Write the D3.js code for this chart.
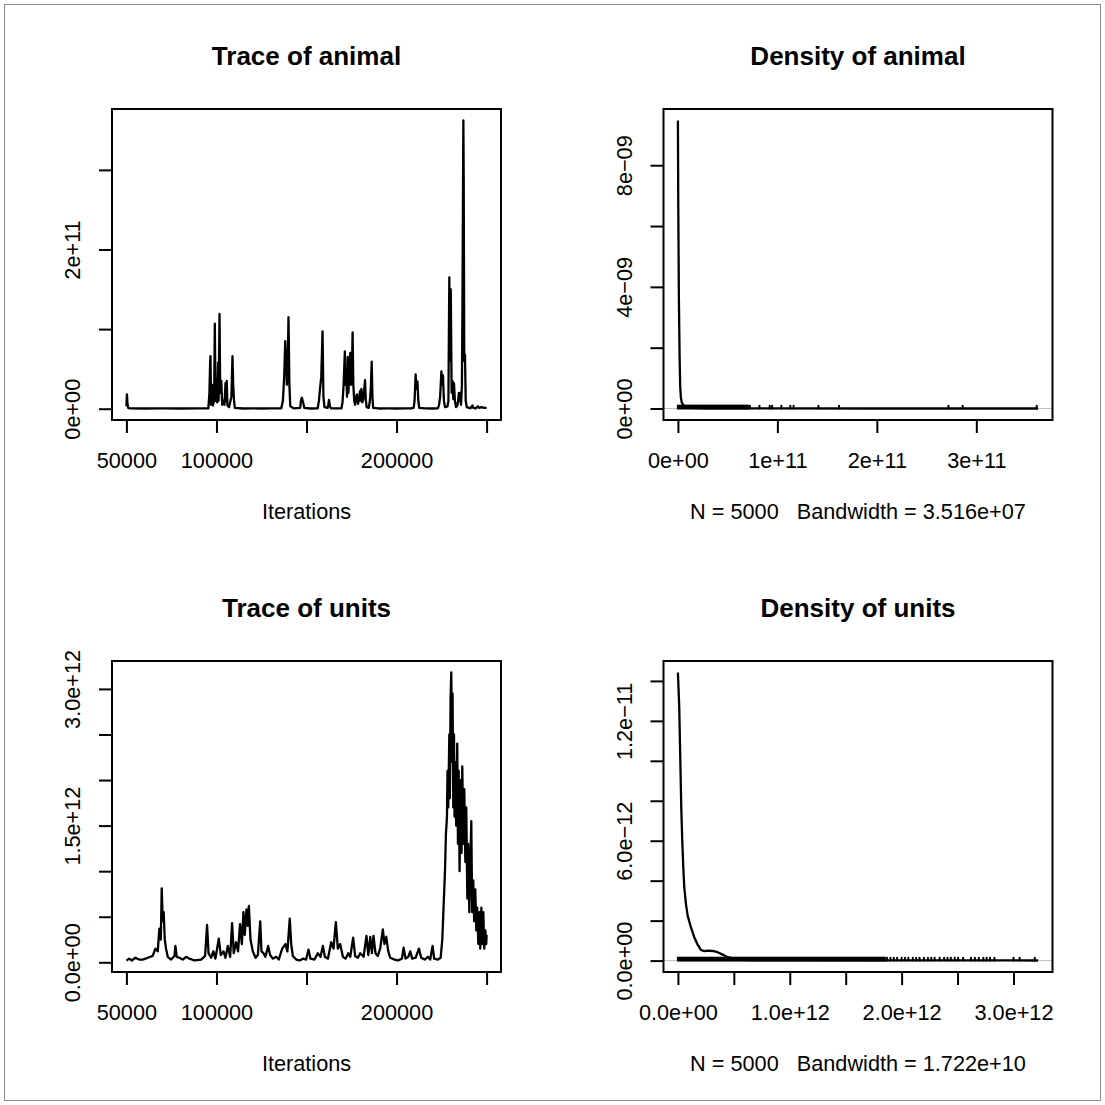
<!DOCTYPE html>
<html><head><meta charset="utf-8">
<script src="https://cdn.jsdelivr.net/npm/d3@7"></script>
<style>
body{margin:0;background:#fff}
svg{display:block}
text{font-family:"Liberation Sans",Arial,Helvetica,sans-serif;fill:#000}
</style>
</head><body>
<svg id="chart" width="1105" height="1105"></svg>
<script>
// ---------------- DATA ----------------
const titles = ["Trace of animal", "Density of animal", "Trace of units", "Density of units"];
const xLabelsText = ["Iterations", "N = 5000   Bandwidth = 3.516e+07", "Iterations", "N = 5000   Bandwidth = 1.722e+10"];

// Trace of animal (iteration, value)
const animalIter = [50000,50300,50600,51000,52000,60000,70000,80000,90000,95500,96100,96500,96700,97000,97600,98000,98700,99100,99500,100000,100400,100900,101200,101700,102100,102700,103200,104000,104500,105000,105400,105700,106100,107000,108300,108900,109300,109700,110200,115000,120000,125000,130000,136000,136900,137600,138200,138700,139100,139500,140000,140500,141000,143000,146500,146900,147400,148100,148800,152000,156200,156900,157500,158200,158900,159400,160000,161700,162100,162500,163000,163600,166000,169400,170000,170600,171300,171700,172100,172500,172900,173300,173800,174300,174700,175200,175600,176000,176500,177000,177500,178000,178600,179200,179700,180100,180500,181000,181500,181900,182500,182900,183400,184600,185200,185700,186200,186600,187000,190000,195000,200000,205000,208000,209500,210000,210600,211100,211600,212100,212600,216000,220000,223000,223600,224200,224900,225400,225800,226300,226900,228300,228800,229300,229700,230100,230600,231100,231500,231900,232400,233000,233800,234200,234600,235000,235400,235800,236300,236600,236900,237100,237300,237600,238000,238400,239000,241000,242200,242600,244000,245200,246000,247100,248500,250000];
const animalValue = [0.03e11,0.18e11,0.06e11,0.01e11,0.005e11,0.003e11,0.004e11,0.003e11,0.004e11,0.005e11,0.2e11,0.6e11,0.66e11,0.05e11,0.3e11,0.04e11,0.1e11,1.07e11,0.1e11,0.33e11,0.08e11,0.58e11,0.1e11,1.19e11,0.2e11,0.35e11,0.05e11,0.1e11,0.05e11,0.32e11,0.1e11,0.35e11,0.04e11,0.02e11,0.15e11,0.66e11,0.3e11,0.12e11,0.01e11,0.003e11,0.004e11,0.003e11,0.004e11,0.005e11,0.1e11,0.4e11,0.85e11,0.6e11,0.3e11,0.4e11,1.15e11,0.3e11,0.03e11,0.004e11,0.01e11,0.1e11,0.14e11,0.08e11,0.01e11,0.003e11,0.005e11,0.1e11,0.25e11,0.4e11,0.97e11,0.15e11,0.02e11,0.01e11,0.05e11,0.11e11,0.03e11,0.005e11,0.004e11,0.005e11,0.08e11,0.3e11,0.72e11,0.3e11,0.45e11,0.15e11,0.65e11,0.2e11,0.5e11,0.7e11,0.3e11,0.45e11,0.96e11,0.3e11,0.1e11,0.05e11,0.15e11,0.18e11,0.06e11,0.12e11,0.22e11,0.1e11,0.25e11,0.08e11,0.12e11,0.2e11,0.36e11,0.12e11,0.02e11,0.01e11,0.1e11,0.25e11,0.59e11,0.15e11,0.01e11,0.003e11,0.004e11,0.003e11,0.004e11,0.006e11,0.01e11,0.1e11,0.43e11,0.25e11,0.34e11,0.1e11,0.01e11,0.004e11,0.003e11,0.006e11,0.05e11,0.15e11,0.47e11,0.3e11,0.42e11,0.1e11,0.02e11,0.03e11,0.1e11,1.65e11,0.6e11,1.5e11,0.2e11,0.35e11,0.12e11,0.32e11,0.1e11,0.02e11,0.04e11,0.1e11,0.2e11,0.1e11,0.2e11,0.05e11,0.3e11,1.32e11,2.71e11,3.62e11,2.86e11,0.6e11,0.68e11,0.1e11,0.02e11,0.005e11,0.04e11,0.01e11,0.005e11,0.03e11,0.01e11,0.02e11,0.01e11,0.01e11];

// Trace of units (iteration, value)
const unitsIter = [50000,51500,53000,55000,57000,59100,61900,64600,66100,67400,68300,69100,69600,70200,70700,71300,72000,72960,74800,76700,77200,77960,79400,81300,83150,85000,87800,91500,93700,94800,95600,97000,98300,99400,101300,102400,103900,105000,106300,107600,108700,109600,110900,112000,113100,114100,115000,115700,116700,117400,118000,118900,120200,121700,123000,124300,125000,126100,127200,128700,129800,131300,133200,134600,136500,138300,139400,140700,141500,142400,144300,146100,148300,149800,151100,152200,154400,156300,157800,159100,160200,161900,163700,165000,166300,167400,168700,170200,171700,173200,174300,175900,177000,178500,179800,181700,183300,184300,185400,186300,187200,188300,189600,190900,192400,193300,194300,195400,196500,198900,200800,203000,203900,205000,206500,207600,208700,210600,212400,213700,215600,217400,218700,220000,220900,223000,224500,225400,226100,226900,227400,228000,228300,228700,229300,229600,230000,230400,230800,231100,231500,231900,232200,232600,233100,233700,234100,234500,235000,235600,236100,236500,237100,237600,238200,238700,239300,239800,240400,240900,241500,242000,242600,243100,243700,244300,244800,245400,246100,246500,247100,247600,248200,248700,249300,249800,250000];
const unitsValue = [0.02e12,0.04e12,0.02e12,0.05e12,0.03e12,0.03e12,0.05e12,0.07e12,0.15e12,0.12e12,0.37e12,0.25e12,0.81e12,0.45e12,0.55e12,0.25e12,0.15e12,0.06e12,0.03e12,0.07e12,0.18e12,0.06e12,0.05e12,0.03e12,0.06e12,0.04e12,0.02e12,0.03e12,0.07e12,0.41e12,0.1e12,0.05e12,0.12e12,0.04e12,0.26e12,0.08e12,0.12e12,0.05e12,0.18e12,0.06e12,0.43e12,0.1e12,0.22e12,0.12e12,0.42e12,0.2e12,0.55e12,0.3e12,0.58e12,0.4e12,0.62e12,0.25e12,0.12e12,0.05e12,0.08e12,0.45e12,0.12e12,0.1e12,0.06e12,0.18e12,0.08e12,0.04e12,0.06e12,0.03e12,0.15e12,0.2e12,0.12e12,0.48e12,0.2e12,0.07e12,0.03e12,0.02e12,0.04e12,0.03e12,0.14e12,0.04e12,0.03e12,0.1e12,0.06e12,0.18e12,0.06e12,0.04e12,0.22e12,0.15e12,0.44e12,0.15e12,0.2e12,0.06e12,0.04e12,0.1e12,0.06e12,0.27e12,0.07e12,0.05e12,0.1e12,0.06e12,0.29e12,0.08e12,0.28e12,0.1e12,0.29e12,0.1e12,0.07e12,0.15e12,0.36e12,0.2e12,0.28e12,0.12e12,0.05e12,0.03e12,0.02e12,0.04e12,0.16e12,0.04e12,0.06e12,0.12e12,0.04e12,0.05e12,0.15e12,0.05e12,0.03e12,0.06e12,0.03e12,0.18e12,0.04e12,0.03e12,0.05e12,0.25e12,0.6e12,1.0e12,1.4e12,1.6e12,2.1e12,1.7e12,2.5e12,1.8e12,2.9e12,3.18e12,2.2e12,2.95e12,1.7e12,2.5e12,1.6e12,2.2e12,1.5e12,2.4e12,1.3e12,2.1e12,1.0e12,2.0e12,1.2e12,2.15e12,1.3e12,1.9e12,1.1e12,1.7e12,0.7e12,1.3e12,0.55e12,1.0e12,1.55e12,0.55e12,0.9e12,0.45e12,0.8e12,0.35e12,0.6e12,0.2e12,0.55e12,0.15e12,0.6e12,0.2e12,0.55e12,0.15e12,0.35e12,0.2e12,0.3e12];

// Density of animal
const animalDensX = [0,0.0035e11,0.01e11,0.017e11,0.023e11,0.03e11,0.04e11,0.055e11,0.08e11,0.13e11,0.3e11,1.0e11,2.0e11,3.0e11,3.621e11];
const animalDensY = [9.47e-9,6.74e-9,3.57e-9,1.72e-9,0.73e-9,0.35e-9,0.19e-9,0.11e-9,0.05e-9,0.02e-9,0.005e-9,0.002e-9,0.001e-9,0.001e-9,0.001e-9];
const animalObsBand = [0, 0.70e11];
const animalObs = [0.703e11,0.723e11,0.82e11,0.923e11,0.947e11,1.04e11,1.13e11,1.163e11,1.413e11,1.62e11,2.72e11,2.863e11,3.607e11];

// Density of units
const unitsDensX = [0,0.012e12,0.021e12,0.03e12,0.039e12,0.048e12,0.057e12,0.072e12,0.087e12,0.116e12,0.146e12,0.176e12,0.206e12,0.236e12,0.266e12,0.31e12,0.355e12,0.40e12,0.445e12,0.504e12,0.624e12,1.04e12,1.94e12,2.53e12,3.22e12];
const unitsDensY = [14.42e-12,12.67e-12,10.17e-12,7.67e-12,6.0e-12,4.67e-12,3.67e-12,2.83e-12,2.25e-12,1.67e-12,1.17e-12,0.8e-12,0.53e-12,0.47e-12,0.5e-12,0.48e-12,0.42e-12,0.3e-12,0.17e-12,0.08e-12,0.03e-12,0.02e-12,0.015e-12,0.01e-12,0.005e-12];
const unitsObsBand = [0, 1.85e12];
const unitsObs = [1.87e12,1.9e12,1.93e12,1.96e12,2.0e12,2.03e12,2.06e12,2.1e12,2.13e12,2.16e12,2.2e12,2.235e12,2.265e12,2.295e12,2.34e12,2.38e12,2.41e12,2.44e12,2.475e12,2.505e12,2.55e12,2.62e12,2.655e12,2.69e12,2.73e12,2.76e12,2.79e12,2.83e12,3.0e12,3.055e12,3.19e12];

// Tick values and labels
const iterTicks = [50000,100000,150000,200000,250000];
const iterTickLabels = ["50000","100000","","200000",""];
const animalTraceYTicks = [0,1e11,2e11,3e11];
const animalTraceYLabels = ["0e+00","","2e+11",""];
const animalDensXTicks = [0,1e11,2e11,3e11];
const animalDensXLabels = ["0e+00","1e+11","2e+11","3e+11"];
const animalDensYTicks = [0,2e-9,4e-9,6e-9,8e-9];
const animalDensYLabels = ["0e+00","","4e\u221209","","8e\u221209"];
const unitsTraceYTicks = [0,0.5e12,1.0e12,1.5e12,2.0e12,2.5e12,3.0e12];
const unitsTraceYLabels = ["0.0e+00","","","1.5e+12","","","3.0e+12"];
const unitsDensXTicks = [0,0.5e12,1.0e12,1.5e12,2.0e12,2.5e12,3.0e12];
const unitsDensXLabels = ["0.0e+00","","1.0e+12","","2.0e+12","","3.0e+12"];
const unitsDensYTicks = [0,2e-12,4e-12,6e-12,8e-12,10e-12,12e-12,14e-12];
const unitsDensYLabels = ["0.0e+00","","","6.0e\u221212","","","1.2e\u221211",""];

// ---------------- DRAW ----------------
const svg = d3.select("#chart");
svg.append("rect").attr("width",1105).attr("height",1105).attr("fill","#fff");
svg.append("rect").attr("x",4.5).attr("y",4.5).attr("width",1096).attr("height",1096)
  .attr("fill","none").attr("stroke","#8c8c8c").attr("stroke-width",1);

const PW = 389, PH = 311;
const FS = 21.7, TFS = 26;

function pad(ext){ const r = ext[1]-ext[0]; return [ext[0]-0.04*r, ext[1]+0.04*r]; }

function panel(o){
  const g = svg.append("g");
  const x = d3.scaleLinear().domain(pad(d3.extent(o.xs))).range([o.left, o.left+PW]);
  const y = d3.scaleLinear().domain(pad(d3.extent(o.ys))).range([o.top+PH, o.top]);

  const xa = g.append("g").attr("transform",`translate(0,${o.top+PH})`)
    .call(d3.axisBottom(x).tickValues(o.xTicks).tickFormat((d,i)=>o.xLabels[i]).tickSize(13).tickSizeOuter(0));
  const ya = g.append("g").attr("transform",`translate(${o.left},0)`)
    .call(d3.axisLeft(y).tickValues(o.yTicks).tickFormat((d,i)=>o.yLabels[i]).tickSize(13).tickSizeOuter(0));
  [xa,ya].forEach(a=>{
    a.select(".domain").remove();
    a.selectAll(".tick line").attr("stroke","#000").attr("stroke-width",2);
    a.selectAll(".tick text").style("font-size",FS+"px").attr("fill","#000");
  });
  xa.selectAll(".tick text").attr("y",48).attr("dy",0);
  ya.selectAll(".tick text").attr("x",0).attr("y",0).attr("dy",0)
    .attr("text-anchor","middle").attr("transform","translate(-32,0) rotate(-90)");

  const cid = "clip"+o.id;
  svg.append("clipPath").attr("id",cid).append("rect")
    .attr("x",o.left).attr("y",o.top).attr("width",PW).attr("height",PH);
  const pg = g.append("g").attr("clip-path",`url(#${cid})`);

  if (o.density){
    pg.append("line").attr("x1",o.left).attr("x2",o.left+PW)
      .attr("y1",y(0)).attr("y2",y(0)).attr("stroke","#bebebe").attr("stroke-width",1);
    const h = d3.max(o.ys)/100;
    pg.append("rect").attr("x",x(o.band[0])-1).attr("width",x(o.band[1])-x(o.band[0])+2)
      .attr("y",y(h)-1).attr("height",y(0)-y(h)+2).attr("fill","#000");
    pg.selectAll("line.obs").data(o.obs).join("line").attr("class","obs")
      .attr("x1",d=>x(d)).attr("x2",d=>x(d)).attr("y1",y(0)).attr("y2",y(h))
      .attr("stroke","#000").attr("stroke-width",2).attr("stroke-linecap","round");
  }
  const line = d3.line().x(d=>x(d[0])).y(d=>y(d[1]));
  pg.append("path").datum(o.xs.map((v,i)=>[v,o.ys[i]]))
    .attr("d",line).attr("fill","none").attr("stroke","#000").attr("stroke-width",2.3)
    .attr("stroke-linejoin","round");

  g.append("rect").attr("x",o.left).attr("y",o.top).attr("width",PW).attr("height",PH)
    .attr("fill","none").attr("stroke","#000").attr("stroke-width",2);

  g.append("text").attr("x",o.left+PW/2).attr("y",o.top-44).attr("text-anchor","middle")
    .style("font-size",TFS+"px").style("font-weight","bold").text(o.title);
  g.append("text").attr("x",o.left+PW/2).attr("y",o.top+PH+99).attr("text-anchor","middle")
    .style("font-size",FS+"px").style("white-space","pre").attr("xml:space","preserve").text(o.xlab);
}

panel({id:1,left:112,top:109,xs:animalIter,ys:animalValue,xTicks:iterTicks,xLabels:iterTickLabels,
  yTicks:animalTraceYTicks,yLabels:animalTraceYLabels,title:titles[0],xlab:xLabelsText[0]});
panel({id:2,left:663.5,top:109,xs:animalDensX,ys:animalDensY,xTicks:animalDensXTicks,xLabels:animalDensXLabels,
  yTicks:animalDensYTicks,yLabels:animalDensYLabels,title:titles[1],xlab:xLabelsText[1],
  density:true,band:animalObsBand,obs:animalObs});
panel({id:3,left:112,top:661,xs:unitsIter,ys:unitsValue,xTicks:iterTicks,xLabels:iterTickLabels,
  yTicks:unitsTraceYTicks,yLabels:unitsTraceYLabels,title:titles[2],xlab:xLabelsText[2]});
panel({id:4,left:663.5,top:661,xs:unitsDensX,ys:unitsDensY,xTicks:unitsDensXTicks,xLabels:unitsDensXLabels,
  yTicks:unitsDensYTicks,yLabels:unitsDensYLabels,title:titles[3],xlab:xLabelsText[3],
  density:true,band:unitsObsBand,obs:unitsObs});
</script>
</body></html>
